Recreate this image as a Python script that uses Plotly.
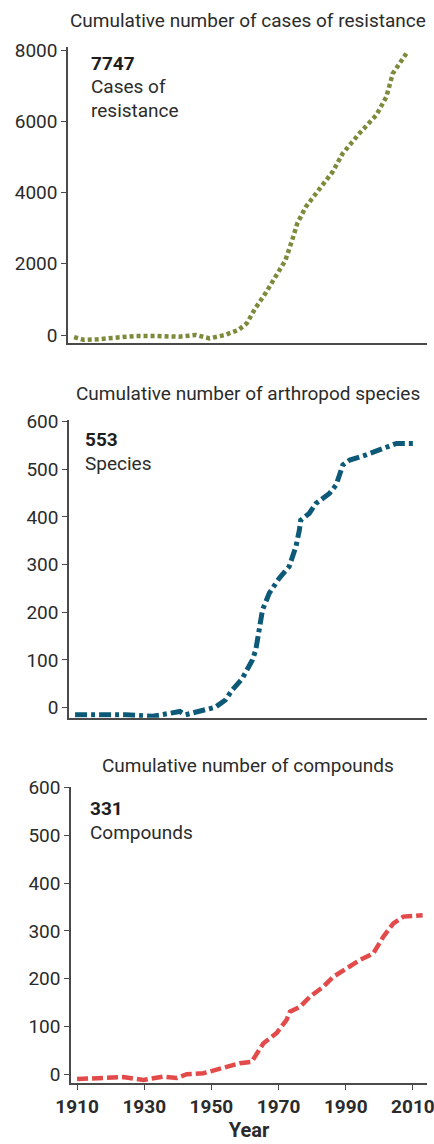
import plotly.graph_objects as go

W, H = 434, 1144

# ---- data ----
res_years = [1910, 1913, 1917, 1922, 1928, 1934, 1941, 1946, 1950, 1954.5, 1958.5, 1961, 1963.5,
             1966.5, 1969.4, 1972.4, 1974.4, 1975.9, 1978.4, 1982.3, 1986.3, 1989.3, 1994.2,
             1999.2, 2002.2, 2004.1, 2008.1]
res_values = [-60, -140, -120, -65, -28, -28, -47, 0, -93, 0, 140, 330, 750,
              1170, 1640, 2100, 2670, 3135, 3600, 4070, 4580, 5100, 5660,
              6175, 6690, 7345, 7910]

sp_years = [1910, 1917, 1925, 1933, 1941, 1942.6, 1948.5, 1951.5, 1954.5, 1956.5, 1959.5, 1962.5,
            1963.5, 1964.5, 1965.5, 1967.5, 1970.4, 1973.4, 1975.4, 1976.4, 1976.8, 1979.3,
            1981.3, 1985.3, 1987.3, 1989.3, 1991.3, 1996.2, 2001.2, 2005.2, 2010.6]
sp_values = [-15, -15, -15, -18, -8, -15, -5, 1, 16, 37, 61, 100,
             121, 163, 205, 240, 271, 296, 338, 372, 393, 407,
             428, 449, 467, 509, 519, 530, 542, 554, 554]

cp_years = [1910, 1915.8, 1923.8, 1929.8, 1935.7, 1939.7, 1942.7, 1947.6, 1952.6, 1958.5, 1962,
            1965.5, 1969.4, 1972.4, 1973.4, 1976.4, 1979.3, 1983.3, 1986.3, 1990.3, 1994.2,
            1998.2, 2001.2, 2004.2, 2007.2, 2012.9]
cp_values = [-10, -8, -6, -12, -5, -8, 0, 2, 12, 23, 26,
             65, 86, 114, 131, 141, 162, 183, 204, 222, 239,
             253, 288, 316, 330, 333]

titles = ["Cumulative number of cases of resistance",
          "Cumulative number of arthropod species",
          "Cumulative number of compounds"]
big_numbers = ["7747", "553", "331"]
labels = [["Cases of", "resistance"], ["Species"], ["Compounds"]]
res_ticks = [0, 2000, 4000, 6000, 8000]
small_ticks = [0, 100, 200, 300, 400, 500, 600]
x_ticks = [1910, 1930, 1950, 1970, 1990, 2010]

FONT = "Liberation Sans Narrow, Roboto, sans-serif"
TXT = "#2b2b2b"
AX = "#4a4a4a"

def py(px):
    return 1 - px / H

fig = go.Figure()

fig.add_trace(go.Scatter(x=res_years, y=res_values, mode="lines", xaxis="x", yaxis="y",
                         line=dict(color="#7b8b3a", width=4.5, dash="4px,3px")))
fig.add_trace(go.Scatter(x=sp_years, y=sp_values, mode="lines", xaxis="x2", yaxis="y2",
                         line=dict(color="#0d5a78", width=5, dash="12px,4px,4px,4px")))
fig.add_trace(go.Scatter(x=cp_years, y=cp_values, mode="lines", xaxis="x3", yaxis="y3",
                         line=dict(color="#e34a4a", width=4.5, dash="11px,4px")))

xr = [1908.2, 2014.2]
common_x = dict(range=xr, showgrid=False, zeroline=False, showline=True, automargin=False,
                linecolor=AX, linewidth=1.5)
common_y = dict(showgrid=False, zeroline=False, showline=True, linecolor=AX, linewidth=1.5,
                automargin=False, ticks="outside", ticklen=5, tickcolor=AX, tickwidth=1.2,
                tickfont=dict(family=FONT, size=19, color=TXT))

layout = dict(
    width=W, height=H, margin=dict(l=0, r=0, t=0, b=0),
    paper_bgcolor="white", plot_bgcolor="white", showlegend=False,
    xaxis=dict(common_x, domain=[68 / W, 427 / W], anchor="y", showticklabels=False, ticks=""),
    yaxis=dict(common_y, domain=[py(342.7), py(46.7)], anchor="x", range=[-216, 8100],
               tickvals=res_ticks),
    xaxis2=dict(common_x, domain=[69 / W, 427 / W], anchor="y2", showticklabels=False, ticks=""),
    yaxis2=dict(common_y, domain=[py(717.7), py(420)], anchor="x2", range=[-21, 603],
                tickvals=small_ticks),
    xaxis3=dict(common_x, domain=[71 / W, 427 / W], anchor="y3", ticks="outside", ticklen=5,
                tickcolor=AX, tickwidth=1.2, tickvals=x_ticks, ticklabeloverflow="allow",
                tickfont=dict(family=FONT, size=19, color=TXT, weight="bold"),
                title=dict(text="<b>Year</b>", font=dict(family=FONT, size=20, color=TXT),
                           standoff=6)),
    yaxis3=dict(common_y, domain=[py(1083.3), py(786.7)], anchor="x3", range=[-19, 602],
                tickvals=small_ticks),
)
fig.update_layout(**layout)

title_y = [20, 393, 765]
num_pos = [(89, 63), (83, 439), (88, 808)]
annotations = []
for i in range(3):
    annotations.append(dict(text=titles[i], x=248 / W, y=py(title_y[i]), xref="paper", yref="paper",
                            showarrow=False, xanchor="center", yanchor="middle",
                            font=dict(family=FONT, size=19, color=TXT)))
    nx, ny = num_pos[i]
    annotations.append(dict(text="<b>" + big_numbers[i] + "</b>", x=nx / W, y=py(ny),
                            xref="paper", yref="paper", showarrow=False,
                            xanchor="left", yanchor="middle",
                            font=dict(family=FONT, size=19, color="#1e1e1e")))
    for j, lab in enumerate(labels[i]):
        annotations.append(dict(text=lab, x=nx / W, y=py(ny + 24 + 23.5 * j),
                                xref="paper", yref="paper", showarrow=False,
                                xanchor="left", yanchor="middle",
                                font=dict(family=FONT, size=19, color=TXT)))
fig.update_layout(annotations=annotations)

fig.write_html("out.html", config={"displayModeBar": False},
               post_script="document.body.style.margin='0';document.body.style.overflow='hidden';")
